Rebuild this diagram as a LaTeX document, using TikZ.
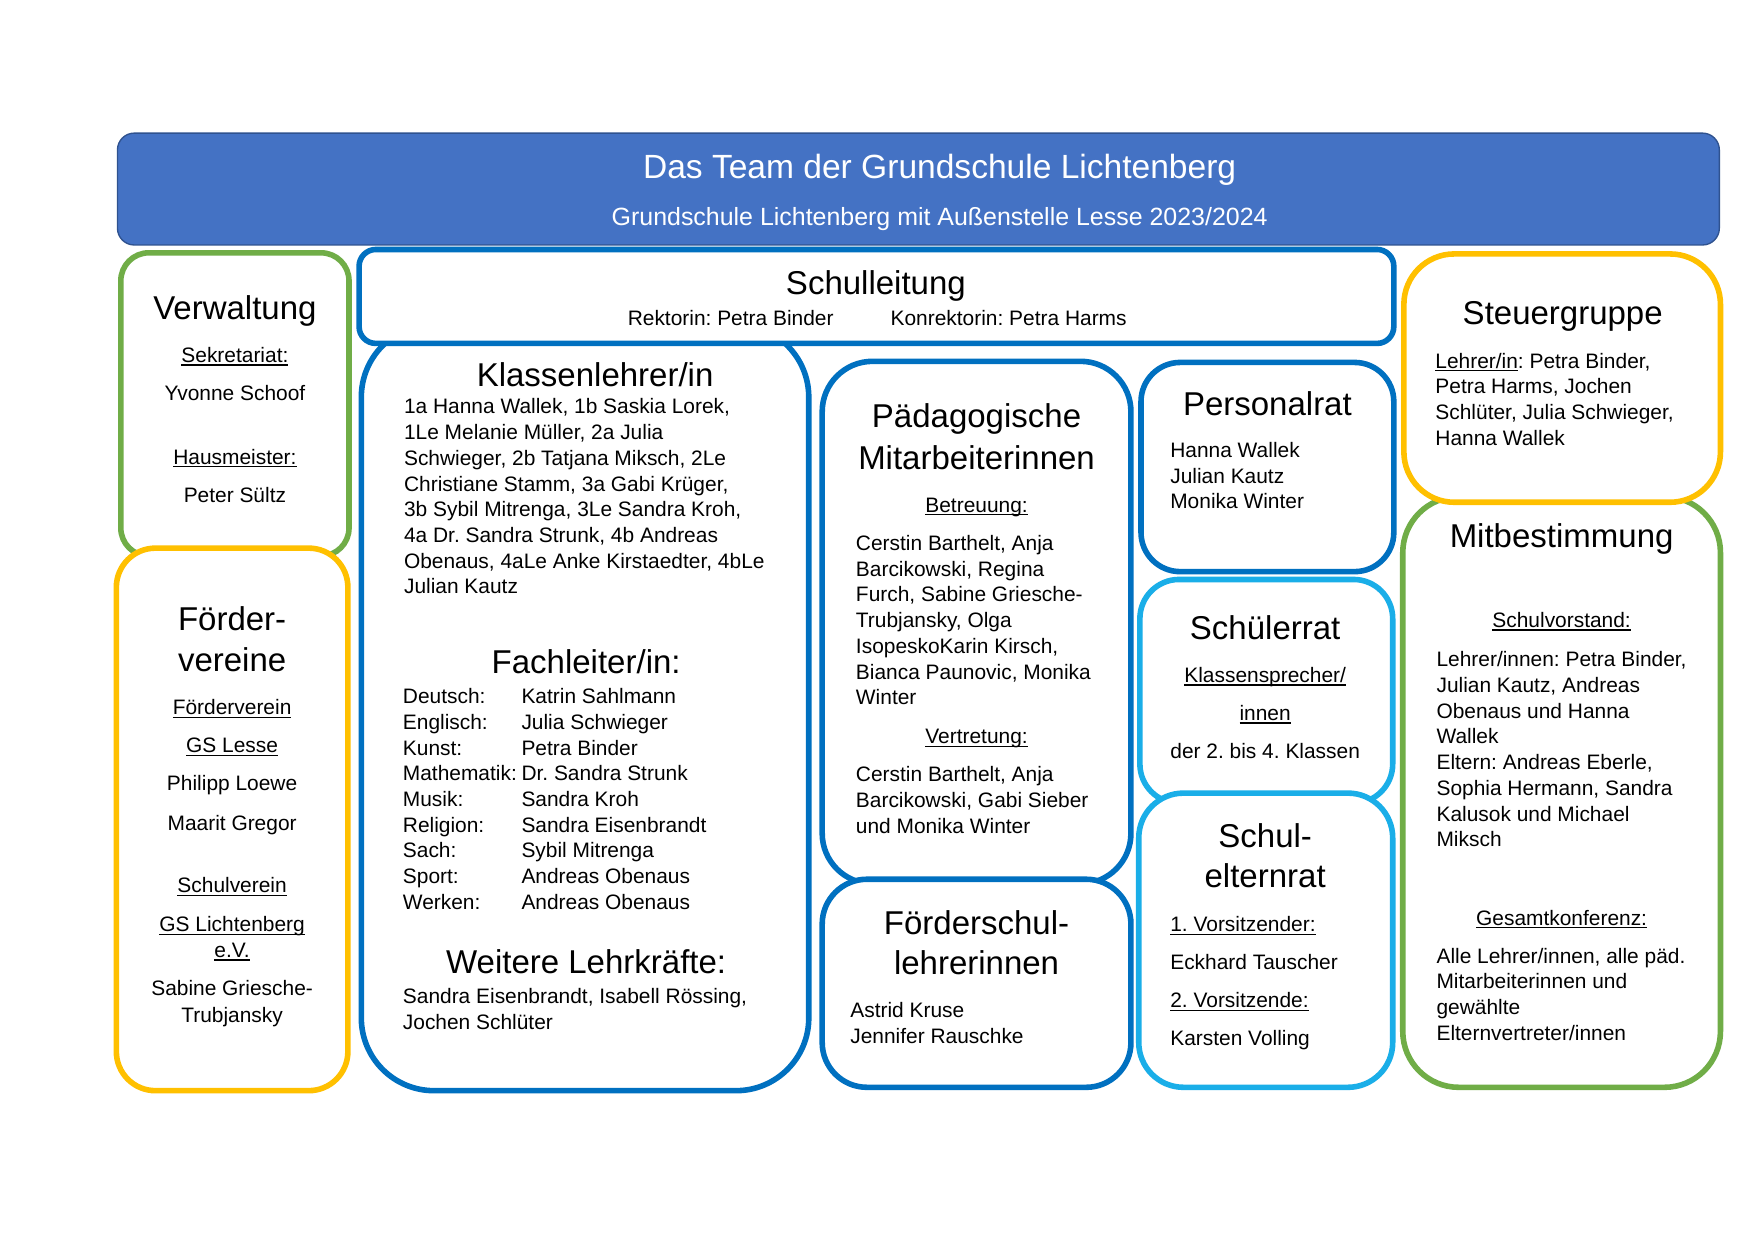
\documentclass[tikz,border=0pt]{standalone}
\usepackage{fontspec}
\setmainfont{Liberation Sans}
\frenchspacing
\definecolor{hdr}{HTML}{4472C4}
\definecolor{hdrb}{HTML}{2F528F}
\definecolor{cgreen}{HTML}{70AD47}
\definecolor{cyellow}{HTML}{FFC000}
\definecolor{cblue}{HTML}{0070C0}
\definecolor{clblue}{HTML}{1AAEE8}
\newcommand\myul[1]{\setbox0=\hbox{#1}\rlap{\rule[-2.8pt]{\wd0}{1.1pt}}\box0}
\begin{document}
\begin{tikzpicture}[x=1pt,y=-1pt,
 bx/.style={draw, line width=5pt, fill=white, inner sep=0pt, outer sep=0pt},
 body/.style={font=\fontsize{18.7}{22.5}\selectfont, inner sep=0pt, text=black},
 ttl/.style={font=\fontsize{29.5}{35}\selectfont, inner sep=0pt, text=black, anchor=base},
]
\useasboundingbox[fill=white] (0,0) rectangle (1568,1108.5);

% ---------- boxes ----------
\node[bx, draw=cgreen, rounded corners=25pt, minimum width=204pt, minimum height=271pt] (verw) at (210,361.5) {};
\node[bx, draw=cyellow, rounded corners=35pt, minimum width=207pt, minimum height=485pt] (foerd) at (207.5,732.5) {};
\node[bx, draw=cblue, rounded corners=65pt, minimum width=400pt, minimum height=685pt] (kl) at (523,632.5) {};
\node[bx, draw=cblue, rounded corners=15pt, minimum width=925pt, minimum height=84pt] (sl) at (783.5,265) {};
\node[bx, draw=cblue, rounded corners=45pt, minimum width=276pt, minimum height=467pt] (paed) at (873,556.5) {};
\node[bx, draw=cblue, rounded corners=40pt, minimum width=276pt, minimum height=186pt] (fsl) at (873,879) {};
\node[bx, draw=cblue, rounded corners=35pt, minimum width=226pt, minimum height=187pt] (pr) at (1133,417.5) {};
\node[bx, draw=clblue, rounded corners=35pt, minimum width=226pt, minimum height=200pt] (sr) at (1132,618) {};
\node[bx, draw=clblue, rounded corners=40pt, minimum width=227pt, minimum height=263pt] (ser) at (1131.5,840.5) {};
\node[bx, draw=cgreen, rounded corners=50pt, minimum width=284pt, minimum height=528pt] (mit) at (1396,708) {};
\node[bx, draw=cyellow, rounded corners=45pt, minimum width=283pt, minimum height=222pt] (steu) at (1396.5,338) {};
\node[bx, draw=hdrb, fill=hdr, line width=1.2pt, rounded corners=15pt, minimum width=1432pt, minimum height=100pt] (hdr) at (821,169) {};

% ---------- header ----------
\node[font=\fontsize{30}{36}\selectfont, text=white, inner sep=0pt, anchor=base] (hdrt) at (840,159.5) {Das Team der Grundschule Lichtenberg};
\node[font=\fontsize{22.3}{27}\selectfont, text=white, inner sep=0pt, anchor=base] (hdrs) at (840,202) {Grundschule Lichtenberg mit Außenstelle Lesse 2023/2024};

% ---------- Verwaltung ----------
\node[ttl] (verwt) at (210,285.5) {Verwaltung};
\node[body, anchor=base] (verw1) at (210,324) {\myul{Sekretariat:}};
\node[body, anchor=base] (verw2) at (210,358) {Yvonne Schoof};
\node[body, anchor=base] (verw3) at (210,415) {\myul{Hausmeister:}};
\node[body, anchor=base] (verw4) at (210,449) {Peter Sültz};

% ---------- Foerdervereine ----------
\node[ttl] (foerdt1) at (207.5,563.5) {Förder-};
\node[ttl] (foerdt2) at (207.5,600.5) {vereine};
\node[body, anchor=base] (fo1) at (207.5,639) {\myul{Förderverein}};
\node[body, anchor=base] (fo2) at (207.5,673) {\myul{GS Lesse}};
\node[body, anchor=base] (fo3) at (207.5,707) {Philipp Loewe};
\node[body, anchor=base] (fo4) at (207.5,742) {Maarit Gregor};
\node[body, anchor=base] (fo5) at (207.5,798) {\myul{Schulverein}};
\node[body, anchor=base] (fo6) at (207.5,833) {\myul{GS Lichtenberg}};
\node[body, anchor=base] (fo7) at (207.5,856) {\myul{e.V.}};
\node[body, anchor=base] (fo8) at (207.5,890) {Sabine Griesche-};
\node[body, anchor=base] (fo9) at (207.5,914) {Trubjansky};

% ---------- Schulleitung ----------
\node[ttl] (slt) at (783,263.5) {Schulleitung};
\node[body, anchor=base west] (sl1) at (561,291) {Rektorin: Petra Binder};
\node[body, anchor=base west] (sl2) at (796,291) {Konrektorin: Petra Harms};

% ---------- Klassenlehrer ----------
\node[ttl] (klt) at (532,345.5) {Klassenlehrer/in};
\foreach \tx [count=\i] in {{1a Hanna Wallek, 1b Saskia Lorek,},{1Le Melanie Müller, 2a Julia},{Schwieger, 2b Tatjana Miksch, 2Le},{Christiane Stamm, 3a Gabi Krüger,},{3b Sybil Mitrenga, 3Le Sandra Kroh,},{4a Dr. Sandra Strunk, 4b Andreas},{Obenaus, 4aLe Anke Kirstaedter, 4bLe},{Julian Kautz}}
  \node[body, anchor=base west] (kl\i) at (361,{370+23*(\i-1)}) {\tx};

\node[ttl] (flt) at (524,602.5) {Fachleiter/in:};
\foreach \sub/\nm [count=\i] in {Deutsch:/Katrin Sahlmann, Englisch:/Julia Schwieger, Kunst:/Petra Binder, Mathematik:/Dr. Sandra Strunk, Musik:/Sandra Kroh, Religion:/Sandra Eisenbrandt, Sach:/Sybil Mitrenga, Sport:/Andreas Obenaus, Werken:/Andreas Obenaus}
{
  \node[body, anchor=base west] (fs\i) at (360,{629+23*(\i-1)}) {\sub};
  \node[body, anchor=base west] (fn\i) at (466,{629+23*(\i-1)}) {\nm};
}

\node[ttl] (wlt) at (524,870.5) {Weitere Lehrkräfte:};
\node[body, anchor=base west] (wl1) at (360,897) {Sandra Eisenbrandt, Isabell Rössing,};
\node[body, anchor=base west] (wl2) at (360,920) {Jochen Schlüter};

% ---------- Paedagogische Mitarbeiterinnen ----------
\node[ttl] (pat1) at (873,382.5) {Pädagogische};
\node[ttl] (pat2) at (873,419.5) {Mitarbeiterinnen};
\node[body, anchor=base] (pab) at (873,458) {\myul{Betreuung:}};
\foreach \tx [count=\i] in {{Cerstin Barthelt, Anja},{Barcikowski, Regina},{Furch, Sabine Griesche-},{Trubjansky, Olga},{IsopeskoKarin Kirsch,},{Bianca Paunovic, Monika},{Winter}}
  \node[body, anchor=base west] (pa\i) at (765,{492+23*(\i-1)}) {\tx};
\node[body, anchor=base] (pav) at (873,665) {\myul{Vertretung:}};
\foreach \tx [count=\i] in {{Cerstin Barthelt, Anja},{Barcikowski, Gabi Sieber},{und Monika Winter}}
  \node[body, anchor=base west] (pv\i) at (765,{699+23*(\i-1)}) {\tx};

% ---------- Foerderschullehrerinnen ----------
\node[ttl] (fslt1) at (873,835.5) {Förderschul-};
\node[ttl] (fslt2) at (873,871.5) {lehrerinnen};
\node[body, anchor=base west] (fsl1) at (760,910) {Astrid Kruse};
\node[body, anchor=base west] (fsl2) at (760,933) {Jennifer Rauschke};

% ---------- Personalrat ----------
\node[ttl] (prt) at (1133,371.5) {Personalrat};
\node[body, anchor=base west] (pr1) at (1046,409) {Hanna Wallek};
\node[body, anchor=base west] (pr2) at (1046,432) {Julian Kautz};
\node[body, anchor=base west] (pr3) at (1046,455) {Monika Winter};

% ---------- Schuelerrat ----------
\node[ttl] (srt) at (1131,571.5) {Schülerrat};
\node[body, anchor=base] (sr1) at (1131,610) {\myul{Klassensprecher/}};
\node[body, anchor=base] (sr2) at (1131,644) {\myul{innen}};
\node[body, anchor=base] (sr3) at (1131,678) {der 2. bis 4. Klassen};

% ---------- Schulelternrat ----------
\node[ttl] (sert1) at (1131,757.5) {Schul-};
\node[ttl] (sert2) at (1131,793.5) {elternrat};
\node[body, anchor=base west] (ser1) at (1046,833) {\myul{1. Vorsitzender:}};
\node[body, anchor=base west] (ser2) at (1046,867) {Eckhard Tauscher};
\node[body, anchor=base west] (ser3) at (1046,901) {\myul{2. Vorsitzende:}};
\node[body, anchor=base west] (ser4) at (1046,935) {Karsten Volling};

% ---------- Steuergruppe ----------
\node[ttl] (steut) at (1397,290.5) {Steuergruppe};
\foreach \tx [count=\i] in {{\myul{Lehrer/in}: Petra Binder,},{Petra Harms, Jochen},{Schlüter, Julia Schwieger,},{Hanna Wallek}}
  \node[body, anchor=base west] (st\i) at (1283,{329+23*(\i-1)}) {\tx};

% ---------- Mitbestimmung ----------
\node[ttl] (mitt) at (1396,489.5) {Mitbestimmung};
\node[body, anchor=base] (mits) at (1396,561) {\myul{Schulvorstand:}};
\foreach \tx [count=\i] in {{Lehrer/innen: Petra Binder,},{Julian Kautz, Andreas},{Obenaus und Hanna},{Wallek},{Eltern: Andreas Eberle,},{Sophia Hermann, Sandra},{Kalusok und Michael},{Miksch}}
  \node[body, anchor=base west] (mi\i) at (1284,{596+23*(\i-1)}) {\tx};
\node[body, anchor=base] (mitg) at (1396,827) {\myul{Gesamtkonferenz:}};
\foreach \tx [count=\i] in {{Alle Lehrer/innen, alle päd.},{Mitarbeiterinnen und},{gewählte},{Elternvertreter/innen}}
  \node[body, anchor=base west] (mg\i) at (1284,{861+23*(\i-1)}) {\tx};
\end{tikzpicture}
\end{document}
